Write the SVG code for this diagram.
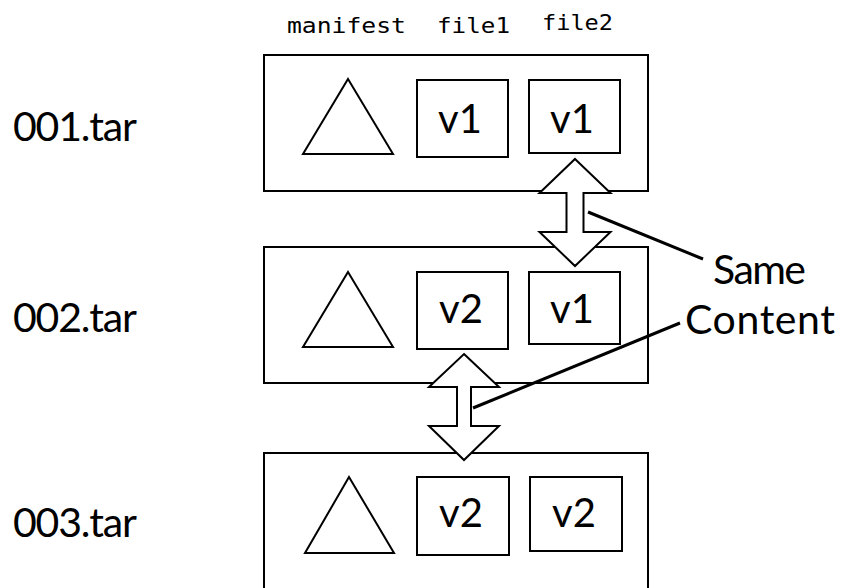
<svg xmlns="http://www.w3.org/2000/svg" width="845" height="588" viewBox="0 0 845 588">
<style>
.box{fill:#fff;stroke:#000;stroke-width:2}
.tri{fill:#fff;stroke:#000;stroke-width:2;stroke-linejoin:miter}
.arrow{fill:#fff;stroke:#000;stroke-width:2;stroke-linejoin:miter}
.lead{stroke:#000;stroke-width:3;fill:none}
.big{font-family:Lato,"Liberation Sans",sans-serif;font-size:41px;fill:#000}
.ver{font-family:Lato,"Liberation Sans",sans-serif;font-size:40px;fill:#000;text-anchor:middle}
.mono{font-family:"DejaVu Sans Mono","Liberation Mono",monospace;font-size:21px;fill:#000}
</style>
<g id="headers">
<text class="mono" x="287" y="33" textLength="119" lengthAdjust="spacingAndGlyphs">manifest</text>
<text class="mono" x="437" y="33" textLength="73" lengthAdjust="spacingAndGlyphs">file1</text>
<text class="mono" x="542" y="30" textLength="71" lengthAdjust="spacingAndGlyphs">file2</text>
</g>
<g id="label001"><text class="big" x="13" y="141" textLength="124">001.tar</text></g>
<g id="label002"><text class="big" x="13" y="332" textLength="124">002.tar</text></g>
<g id="label003"><text class="big" x="13" y="537" textLength="124">003.tar</text></g>
<g id="tar001">
<rect class="box" x="264" y="55" width="384" height="136"/>
<polygon class="tri" points="348,79 393,154 303,154"/>
<rect class="box" x="417" y="80" width="91" height="77"/>
<text class="ver" x="460" y="133">v1</text>
<rect class="box" x="529" y="80" width="91" height="73"/>
<text class="ver" x="572" y="133">v1</text>
</g>
<g id="tar002">
<rect class="box" x="264" y="247" width="384" height="136"/>
<polygon class="tri" points="348,272 393,347 303,347"/>
<rect class="box" x="417" y="272" width="91" height="77"/>
<text class="ver" x="461" y="323">v2</text>
<rect class="box" x="529" y="272" width="91" height="72"/>
<text class="ver" x="572" y="323">v1</text>
</g>
<g id="tar003">
<rect class="box" x="264" y="453" width="384" height="137"/>
<polygon class="tri" points="349,477 394,553 305,553"/>
<rect class="box" x="417" y="477" width="92" height="78"/>
<text class="ver" x="461" y="527">v2</text>
<rect class="box" x="530" y="477" width="92" height="74"/>
<text class="ver" x="574" y="527">v2</text>
</g>
<g id="same-content">
<text class="big" x="713" y="284" textLength="93">Same</text>
<text class="big" x="685" y="334" textLength="150">Content</text>
</g>
<g id="connectors">
<polygon class="arrow" points="575,159 610.5,193 583.5,193 583.5,232 610.5,232 575,266 539.5,232 566.5,232 566.5,193 539.5,193"/>
<polygon class="arrow" points="464,354 499,387 471,387 471,426 499,426 464,460 429,426 457,426 457,387 429,387"/>
<line class="lead" x1="588" y1="212" x2="703" y2="259"/>
<line class="lead" x1="473" y1="408" x2="680" y2="323"/>
</g>
</svg>
